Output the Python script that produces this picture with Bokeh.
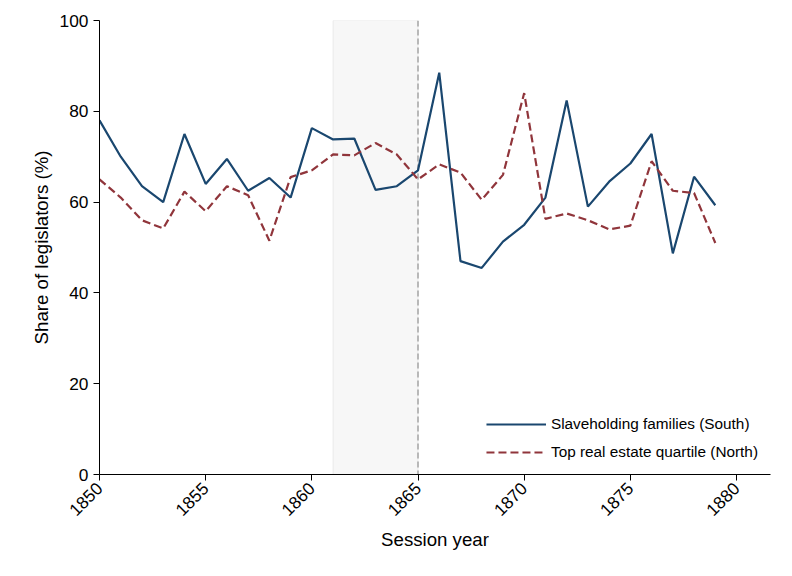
import math
from bokeh.plotting import figure
from bokeh.models import BoxAnnotation, Span, Range1d, Legend, LegendItem, FixedTicker
from bokeh.embed import file_html
from bokeh.resources import INLINE

years = list(range(1850, 1880))
slave = [78, 70, 63.5, 60, 75, 64, 69.5, 62.5, 65.3, 61, 76.3, 73.8, 74, 62.7, 63.5,
         67, 88.5, 47, 45.5, 51.3, 55, 61, 82.4, 59, 64.5, 68.5, 75, 48.7, 65.6, 59.3]
north = [65, 61, 56, 54.2, 62.3, 58, 63.5, 61.5, 51.5, 65.5, 67, 70.5, 70.3, 73, 70.5,
         65, 68.3, 66.5, 60.5, 66, 84, 56.3, 57.5, 56, 54, 54.8, 69, 62.5, 62, 51]
x_ticks = [1850, 1855, 1860, 1865, 1870, 1875, 1880]
y_ticks = [0, 20, 40, 60, 80, 100]

p = figure(width=780, height=560, output_backend="svg", toolbar_location=None,
           min_border_left=99, min_border_bottom=86, min_border_top=20, min_border_right=10,
           x_range=Range1d(1850, 1881.6), y_range=Range1d(0, 100))
p.outline_line_color = None
p.grid.grid_line_color = None
p.background_fill_color = "white"

p.add_layout(BoxAnnotation(left=1861, right=1865, fill_color="#e8e8e8", fill_alpha=0.35,
                           line_color="#dddddd", line_alpha=0.6, level="underlay"))
p.add_layout(Span(location=1865, dimension="height", line_color="#999999",
                  line_dash="6 3", line_width=1.3, level="underlay"))

r1 = p.line(years, slave, line_color="#1a476f", line_width=2.2)
r2 = p.line(years, north, line_color="#90353b", line_width=2.2, line_dash="8 4")

font = "Liberation Sans"
for ax in (p.xaxis[0], p.yaxis[0]):
    ax.major_label_text_font = font
    ax.axis_label_text_font = font
    ax.major_label_text_font_size = "13pt"
    ax.axis_label_text_font_size = "14pt"
    ax.axis_label_text_font_style = "normal"
    ax.axis_line_color = "black"
    ax.major_tick_line_color = "black"
    ax.minor_tick_line_color = None
    ax.major_tick_out = 6
    ax.major_tick_in = 0
    ax.major_label_text_color = "black"
    ax.axis_label_text_color = "black"
p.xaxis.ticker = FixedTicker(ticks=x_ticks)
p.yaxis.ticker = FixedTicker(ticks=y_ticks)
p.xaxis.major_label_orientation = math.pi / 4
p.xaxis.axis_label = "Session year"
p.yaxis.axis_label = "Share of legislators (%)"

leg = Legend(items=[LegendItem(label="Slaveholding families (South)", renderers=[r1]),
                    LegendItem(label="Top real estate quartile (North)", renderers=[r2])],
             location="bottom_right", border_line_color=None, background_fill_alpha=0,
             label_text_font=font, label_text_font_size="11.5pt", label_text_color="black",
             glyph_width=60, spacing=8, margin=12)
p.add_layout(leg)

open("out.html", "w").write(file_html(p, INLINE))
